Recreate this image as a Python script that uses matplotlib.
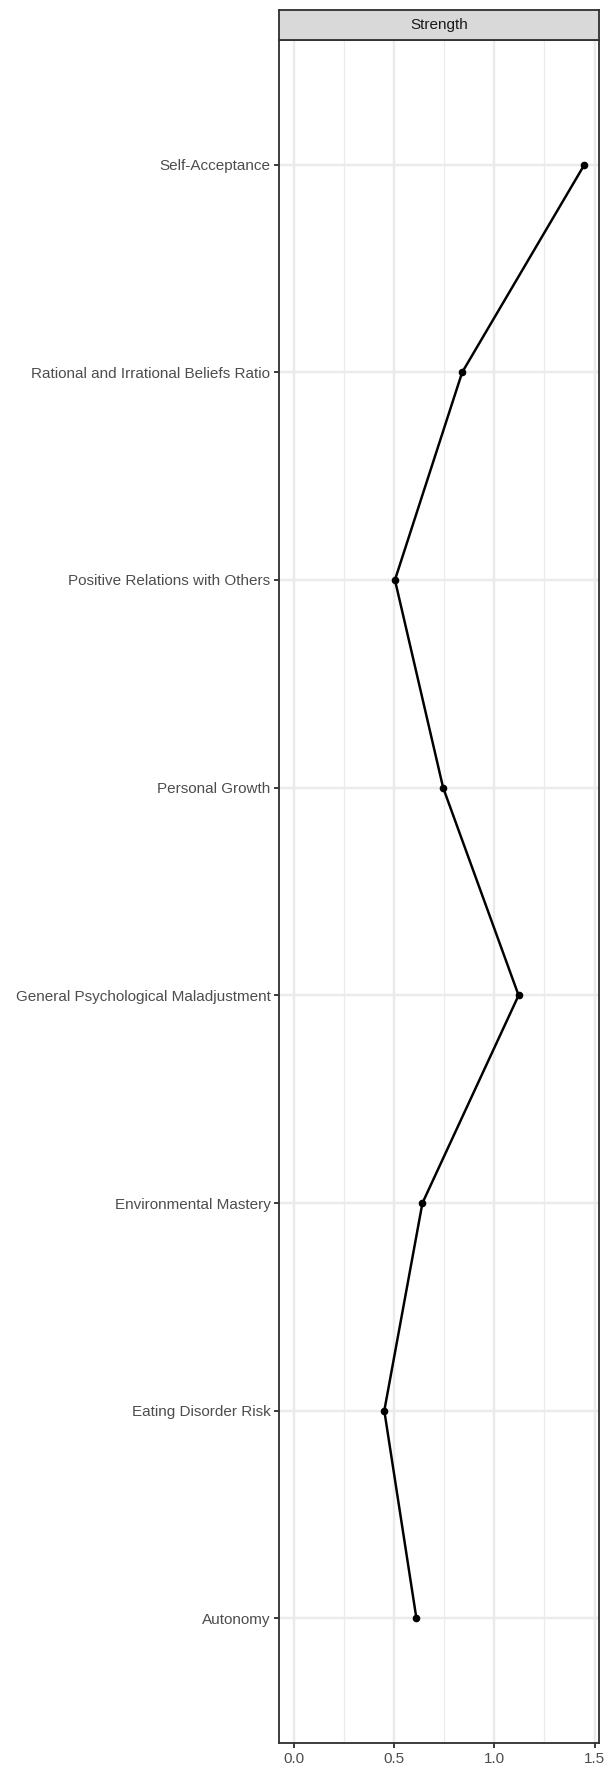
import matplotlib
matplotlib.use('Agg')
import matplotlib.pyplot as plt
from matplotlib.ticker import FixedLocator

# ---- data ----
categories = [
    "Autonomy",
    "Eating Disorder Risk",
    "Environmental Mastery",
    "General Psychological Maladjustment",
    "Personal Growth",
    "Positive Relations with Others",
    "Rational and Irrational Beliefs Ratio",
    "Self-Acceptance",
]
strength = [0.612, 0.452, 0.642, 1.121, 0.745, 0.505, 0.840, 1.449]
x_ticks = [0.0, 0.5, 1.0, 1.5]
x_tick_labels = ["0.0", "0.5", "1.0", "1.5"]
x_minor = [0.25, 0.75, 1.25]
facet_label = "Strength"

plt.rcParams['font.family'] = ['Liberation Sans', 'DejaVu Sans']

W, H, DPI = 608, 1769, 125
fig = plt.figure(figsize=(W / DPI, H / DPI), dpi=DPI)
fig.patch.set_facecolor('white')

left, right = 279 / W, 599 / W
bottom, top = 1 - 1743 / H, 1 - 40 / H
strip_top = 1 - 9.5 / H

ax = fig.add_axes([left, bottom, right - left, top - bottom])
ypos = list(range(1, len(categories) + 1))

# grid
for v in x_minor:
    ax.axvline(v, color='#EBEBEB', lw=0.71, zorder=0)
for v in x_ticks:
    ax.axvline(v, color='#EBEBEB', lw=1.42, zorder=0)
for y in ypos:
    ax.axhline(y, color='#EBEBEB', lw=1.42, zorder=0)

ax.plot(strength, ypos, color='black', lw=1.42, zorder=2,
        marker='o', markersize=4.4, markeredgewidth=0, markerfacecolor='black')

ax.set_xlim(-0.0725, 1.5215)
ax.set_ylim(0.4, 8.6)
ax.xaxis.set_major_locator(FixedLocator(x_ticks))
ax.set_xticklabels(x_tick_labels)
ax.set_yticks(ypos)
ax.set_yticklabels(categories)
ax.tick_params(axis='both', length=2.75, width=1.07, color='#333333',
               labelcolor='#4D4D4D', labelsize=8.8, pad=2.2)
for s in ax.spines.values():
    s.set_color('#333333')
    s.set_linewidth(1.07)

# strip
sax = fig.add_axes([left, top, right - left, strip_top - top])
sax.set_facecolor('#D9D9D9')
sax.set_xticks([])
sax.set_yticks([])
for s in sax.spines.values():
    s.set_color('#333333')
    s.set_linewidth(1.07)
sax.text(0.5, 0.5, facet_label, ha='center', va='center', fontsize=8.8,
         color='#1A1A1A', transform=sax.transAxes)

fig.savefig('out.png', dpi=DPI)
